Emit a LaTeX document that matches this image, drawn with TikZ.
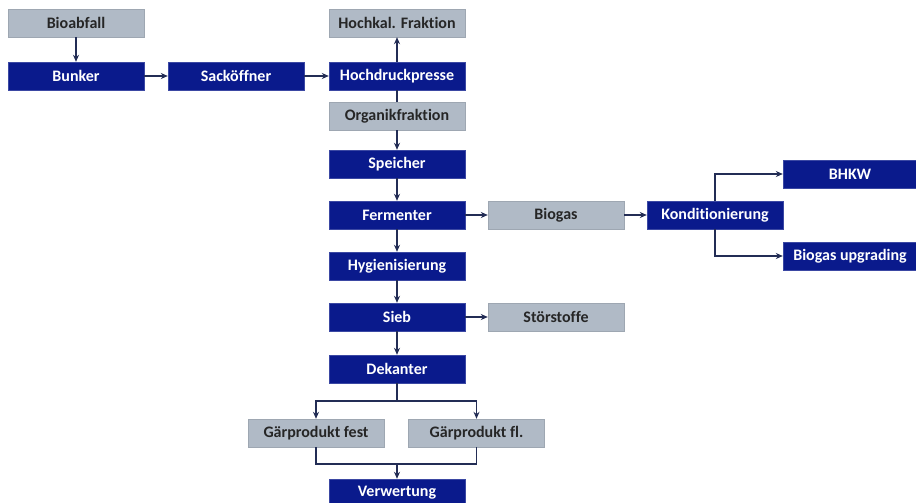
\documentclass[tikz,border=0pt]{standalone}
\usepackage{fontspec}
\setmainfont{Carlito}[Ligatures={NoCommon}]
\usetikzlibrary{arrows.meta}
\definecolor{navyb}{RGB}{10,26,140}
\definecolor{grayb}{RGB}{176,186,198}
\definecolor{linec}{RGB}{35,45,85}
\tikzset{
  box/.style={rectangle, minimum width=136pt, minimum height=28pt, inner sep=0pt, font=\bfseries\fontsize{16}{18}\selectfont},
  bluebox/.style={box, fill=navyb, draw=navyb!80!white, text=white},
  graybox/.style={box, fill=grayb, draw=grayb!90!black, text=black!85},
  conn/.style={draw=linec, line width=1.1pt},
  arr/.style={conn, -{Stealth[length=7pt,width=6pt]}},
}
\begin{document}
\begin{tikzpicture}[x=1pt,y=-1pt]
\useasboundingbox (0,0) rectangle (916,503);
\clip (0,0) rectangle (916,503);
\fill[white] (0,0) rectangle (916,503);
\node[graybox] (bio) at (76,23) {Bioabfall};
\node[bluebox] (bunker) at (76,76) {Bunker};
\node[bluebox] (sack) at (236,76) {Sacköffner};
\node[bluebox] (hdp) at (397,76) {Hochdruckpresse};
\node[graybox] (hkf) at (397,23) {Hochkal. Fraktion};
\node[graybox] (org) at (397,116) {Organikfraktion};
\node[bluebox] (spei) at (397,164) {Speicher};
\node[bluebox] (ferm) at (397,215) {Fermenter};
\node[graybox] (biogas) at (556,215) {Biogas};
\node[bluebox] (kond) at (715,215) {Konditionierung};
\node[bluebox, minimum width=134pt] (bhkw) at (850,174) {BHKW};
\node[bluebox, minimum width=134pt] (upg) at (850,256) {Biogas upgrading};
\node[bluebox] (hyg) at (397,266) {Hygienisierung};
\node[bluebox] (sieb) at (397,317) {Sieb};
\node[graybox] (stoer) at (556,317) {Störstoffe};
\node[bluebox] (dek) at (397,369) {Dekanter};
\node[graybox] (gfest) at (316,433) {Gärprodukt fest};
\node[graybox] (gfl) at (476.5,433) {Gärprodukt fl.};
\node[bluebox] (verw) at (397,493) {Verwertung};
\coordinate (dsplit) at (397,401);
\coordinate (gjoin) at (397,464);

\draw[arr] (bio) -- (bunker);
\draw[arr] (bunker) -- (sack);
\draw[arr] (sack) -- (hdp);
\draw[arr] (hdp) -- (hkf);
\draw[conn] (hdp) -- (org);
\draw[arr] (org) -- (spei);
\draw[arr] (spei) -- (ferm);
\draw[arr] (ferm) -- (biogas);
\draw[arr] (biogas) -- (kond);
\draw[arr] (kond.north) |- (bhkw.west);
\draw[arr] (kond.south) |- (upg.west);
\draw[arr] (ferm) -- (hyg);
\draw[arr] (hyg) -- (sieb);
\draw[arr] (sieb) -- (stoer);
\draw[arr] (sieb) -- (dek);
\draw[conn] (dek.south) -- (dsplit);
\draw[arr] (dsplit) -| (gfest.north);
\draw[arr] (dsplit) -| (gfl.north);
\draw[conn] (gfest.south) |- (gjoin);
\draw[conn] (gfl.south) |- (gjoin);
\draw[arr] (gjoin) -- (verw.north);
\end{tikzpicture}
\end{document}
